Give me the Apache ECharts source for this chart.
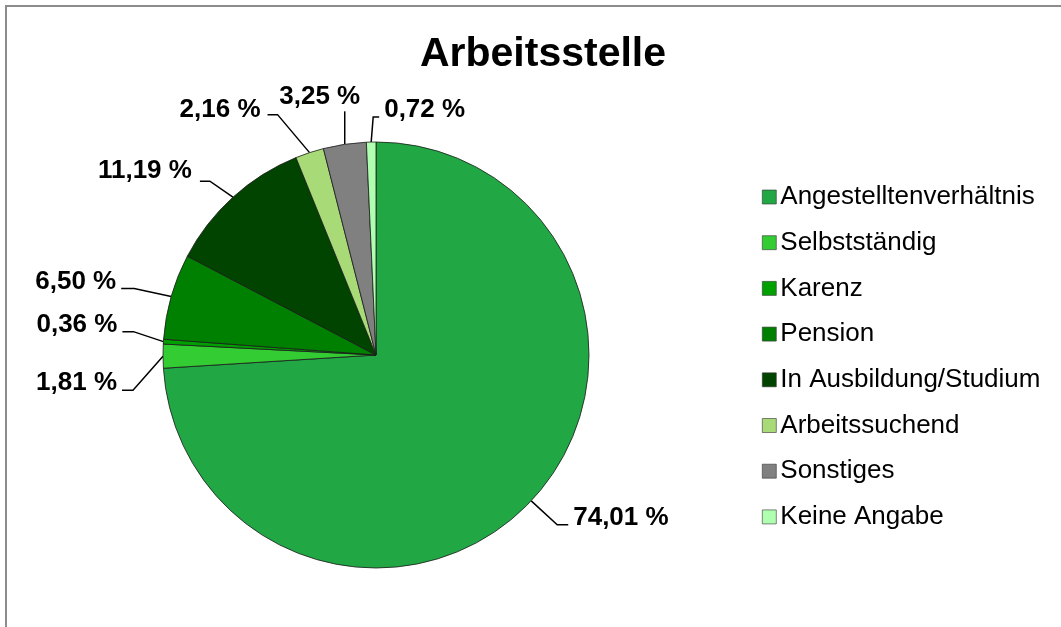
<!DOCTYPE html>
<html>
<head>
<meta charset="utf-8">
<script src="https://cdn.jsdelivr.net/npm/echarts@6/dist/echarts.min.js"></script>
<style>
  html, body { margin: 0; padding: 0; background: #fff; }
  #chart { width: 1061px; height: 627px; }
</style>
</head>
<body>
<div id="chart"></div>
<script>
const categories = ['Angestelltenverhältnis', 'Selbstständig', 'Karenz', 'Pension',
  'In Ausbildung/Studium', 'Arbeitssuchend', 'Sonstiges', 'Keine Angabe'];
const shares = [74.01, 1.81, 0.36, 6.50, 11.19, 2.16, 3.25, 0.72];
const colors = ['#22a745', '#33cc33', '#00a000', '#008000', '#004400', '#a8da78', '#808080', '#b0ffb0'];

// leader line bends, relative to the point on the pie edge:
// [bend dx, bend dy, horizontal run, text gap, text dy]
const leaders = [
  [26, 24, 11, 5, -7],
  [-30, 34, -11, -5, -7],
  [-30, -10, -11, -5, -7],
  [-37, -8, -13, -5, -7],
  [-23, -16, -10, -8, -10],
  [-32, -38, -10, -7, -5],
  [0, -33, 0, -25, -14],
  [2, -25, 6, 5, -7]
];

const myChart = echarts.init(document.getElementById('chart'));
myChart.setOption({
  animation: false,
  color: colors,
  graphic: [{
    type: 'rect',
    shape: { x: 6, y: 6, width: 1200, height: 800 },
    style: { fill: 'none', stroke: '#8c8c8c', lineWidth: 2 },
    silent: true
  }],
  title: {
    text: 'Arbeitsstelle',
    left: 538,
    textAlign: 'center',
    top: 29,
    textStyle: { fontFamily: 'Liberation Sans', fontSize: 41, fontWeight: 'bold', color: '#000' }
  },
  legend: {
    orient: 'vertical',
    left: 757,
    top: 179,
    itemWidth: 14,
    itemHeight: 14,
    itemGap: 19.7,
    icon: 'rect',
    data: categories,
    itemStyle: { borderColor: '#333', borderWidth: 0.6 },
    textStyle: { fontFamily: 'Liberation Sans', fontSize: 26, color: '#000', padding: [0, 0, 0, -1] }
  },
  series: [{
    type: 'pie',
    center: [376, 355],
    radius: 213,
    startAngle: 90,
    clockwise: true,
    avoidLabelOverlap: false,
    itemStyle: { borderColor: '#1a1a1a', borderWidth: 0.8 },
    label: {
      show: true,
      position: 'outside',
      fontFamily: 'Liberation Sans',
      fontSize: 26,
      fontWeight: 'bold',
      color: '#000',
      formatter: p => p.value.toFixed(2).replace('.', ',') + ' %'
    },
    labelLine: {
      show: true,
      length: 30,
      length2: 12,
      lineStyle: { color: '#000', width: 1.5 }
    },
    labelLayout: function (params) {
      const p0 = params.labelLinePoints[0];
      const l = leaders[params.dataIndex];
      const p1 = [p0[0] + l[0], p0[1] + l[1]];
      const p2 = [p1[0] + l[2], p1[1]];
      let align = l[2] > 0 ? 'left' : 'right';
      if (l[2] === 0) align = 'center';
      return {
        x: p2[0] + l[3],
        y: p2[1] + l[4],
        align: align,
        verticalAlign: 'middle',
        labelLinePoints: [p0, p1, p2]
      };
    },
    emphasis: { disabled: true },
    data: categories.map((name, i) => ({ name, value: shares[i] }))
  }]
});
</script>
</body>
</html>
